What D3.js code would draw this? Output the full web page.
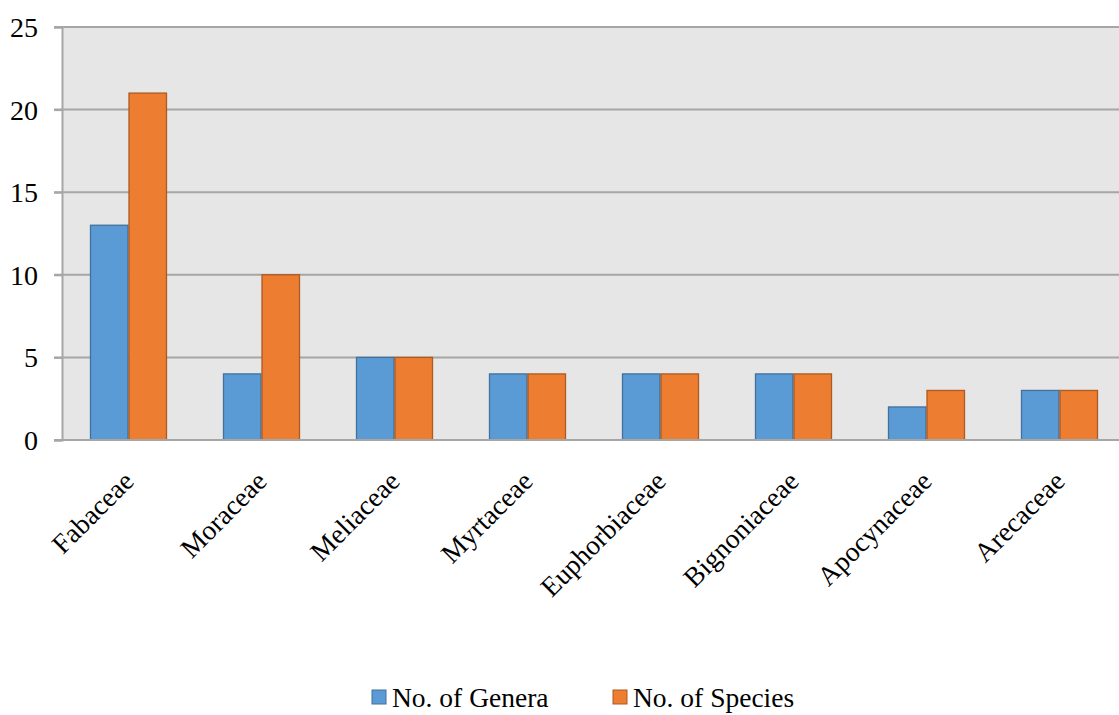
<!DOCTYPE html>
<html>
<head>
<meta charset="utf-8">
<script src="https://cdnjs.cloudflare.com/ajax/libs/d3/7.8.5/d3.min.js"></script>
<style>
  html, body { margin: 0; padding: 0; background: #ffffff; }
  svg { display: block; }
  text { font-family: "Liberation Serif", "Times New Roman", serif; fill: #000; }
</style>
</head>
<body>
<svg id="chart" width="1119" height="715"></svg>
<script>
// Plant families and counts
const families = ["Fabaceae", "Moraceae", "Meliaceae", "Myrtaceae", "Euphorbiaceae", "Bignoniaceae", "Apocynaceae", "Arecaceae"];
const genera  = [13, 4, 5, 4, 4, 4, 2, 3];
const species = [21, 10, 5, 4, 4, 4, 3, 3];
const seriesNames = ["No. of Genera", "No. of Species"];
const yTicks = [0, 5, 10, 15, 20, 25];

const fills   = ["#5b9bd5", "#ed7d31"];
const strokes = ["#41719c", "#ae5a21"];

const svg = d3.select("#chart");

const plot = { left: 62, top: 27, bottom: 440, right: 62 + 8 * 133 };

const y = d3.scaleLinear().domain([0, 25]).range([plot.bottom, plot.top]);
const x0 = d3.scaleBand().domain(families).range([plot.left, plot.right])
  .paddingInner(0.421).paddingOuter(0.2105);
const x1 = d3.scaleBand().domain(seriesNames).range([0, x0.bandwidth()]);

// Plot background
svg.append("rect")
  .attr("x", plot.left).attr("y", plot.top)
  .attr("width", plot.right - plot.left).attr("height", plot.bottom - plot.top)
  .attr("fill", "#e6e6e6");

// Horizontal gridlines
svg.append("g").selectAll("line").data(yTicks).join("line")
  .attr("x1", plot.left - 8).attr("x2", plot.right)
  .attr("y1", d => y(d)).attr("y2", d => y(d))
  .attr("stroke", "#a6a6a6").attr("stroke-width", 2);

// Y axis
const yAxis = svg.append("g")
  .attr("transform", `translate(${plot.left},0)`)
  .call(d3.axisLeft(y).tickValues(yTicks).tickSize(8).tickPadding(16).tickFormat(d3.format("d")));
yAxis.select(".domain").attr("stroke", "#a6a6a6").attr("stroke-width", 2);
yAxis.selectAll(".tick line").attr("stroke", "#a6a6a6").attr("stroke-width", 2);
yAxis.selectAll(".tick text")
  .attr("font-family", "'Liberation Serif', 'Times New Roman', serif")
  .attr("font-size", 28).attr("fill", "#000").attr("dy", "0.34em");

// Bars
const rows = families.map((f, i) => ({ family: f, values: [genera[i], species[i]] }));
const groups = svg.append("g").selectAll("g").data(rows).join("g")
  .attr("transform", d => `translate(${x0(d.family)},0)`);
groups.selectAll("rect").data(d => d.values.map((v, k) => ({ key: seriesNames[k], k, v }))).join("rect")
  .attr("x", d => x1(d.key) + 0.5)
  .attr("y", d => y(d.v))
  .attr("width", x1.bandwidth() - 1)
  .attr("height", d => y(0) - y(d.v))
  .attr("fill", d => fills[d.k])
  .attr("stroke", d => strokes[d.k])
  .attr("stroke-width", 1.3);

// Baseline over bars
svg.append("line")
  .attr("x1", plot.left - 8).attr("x2", plot.right)
  .attr("y1", y(0)).attr("y2", y(0))
  .attr("stroke", "#a6a6a6").attr("stroke-width", 2);

// Category labels, rotated
svg.append("g").selectAll("text").data(families).join("text")
  .attr("transform", d => `translate(${x0(d) + x0.bandwidth() / 2},${plot.bottom + 36}) rotate(-45)`)
  .attr("text-anchor", "end")
  .attr("dy", "0.35em")
  .attr("font-size", 27.5)
  .text(d => d);

// Legend
const legendX = [372, 613];
const legend = svg.append("g").selectAll("g").data(seriesNames).join("g")
  .attr("transform", (d, i) => `translate(${legendX[i]},690)`);
legend.append("rect")
  .attr("width", 14).attr("height", 14)
  .attr("fill", (d, i) => fills[i]).attr("stroke", (d, i) => strokes[i]).attr("stroke-width", 1);
legend.append("text")
  .attr("x", 20).attr("y", 17)
  .attr("font-size", 27.5)
  .text(d => d);
</script>
</body>
</html>
